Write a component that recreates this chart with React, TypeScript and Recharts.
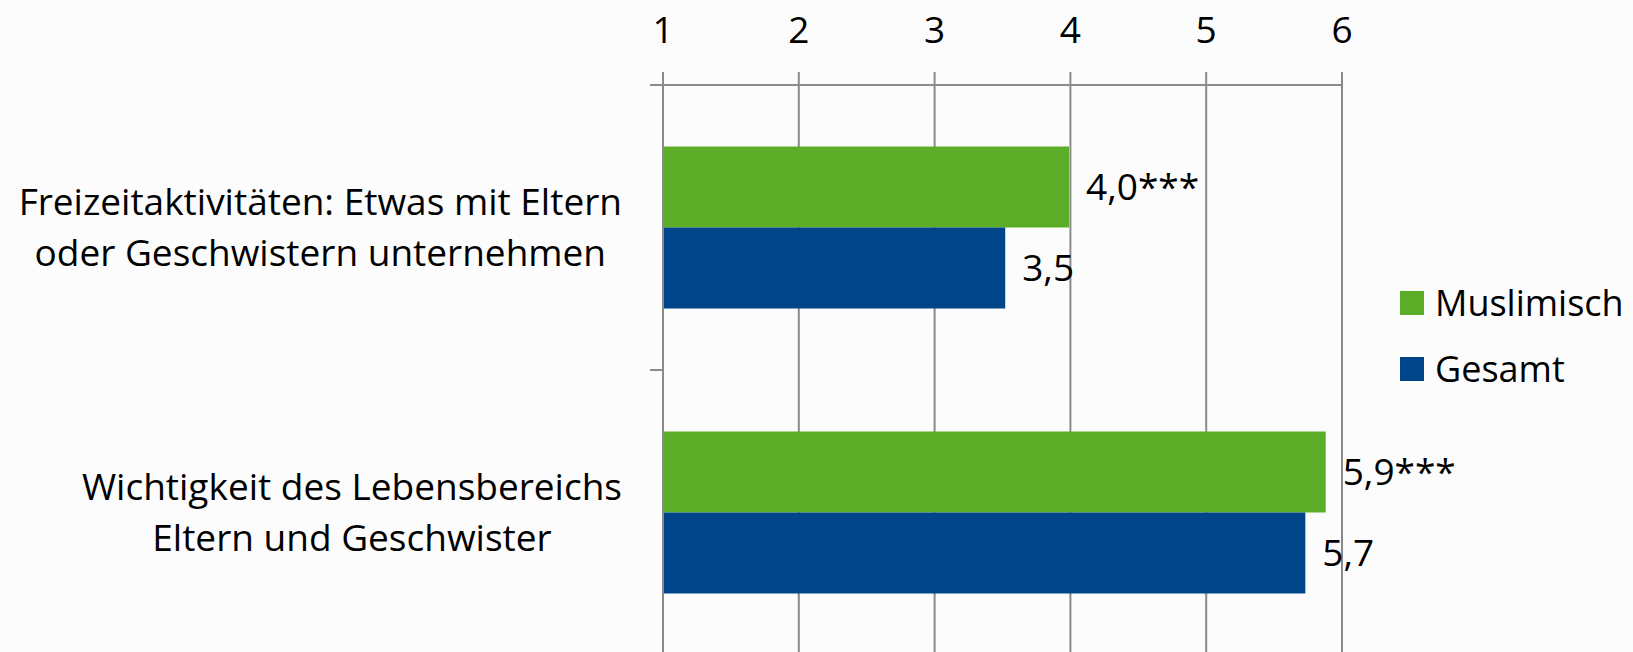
import React from 'react';
import { BarChart, Bar, XAxis, YAxis, CartesianGrid, Legend, LabelList } from 'recharts';

// values (scale 1..6)
const categories = [
  'Freizeitaktivitäten: Etwas mit Eltern\noder Geschwistern unternehmen',
  'Wichtigkeit des Lebensbereichs\nEltern und Geschwister',
];
const muslimisch = [3.99, 5.88];
const gesamt = [3.52, 5.73];
const muslimischSig = ['***', '***'];
const gesamtSig = ['', ''];
const xTicks = [1, 2, 3, 4, 5, 6];
const seriesNames = ['Muslimisch', 'Gesamt'];

const GREEN = '#5bad27';
const BLUE = '#004589';
const AXIS = '#8a8a8a';
const FONT = "'Open Sans', sans-serif";

const W = 1633;
const H = 680;
const PLOT_LEFT = 663;
const PLOT_RIGHT = 1342;
const PLOT_TOP = 85;
const PLOT_BOTTOM = 655;
const BAND = (PLOT_BOTTOM - PLOT_TOP) / categories.length;

const data = categories.map((name, i) => ({
  name,
  muslimisch: muslimisch[i],
  gesamt: gesamt[i],
}));

let ctx: CanvasRenderingContext2D | null = null;
const measure = (s: string, font: string) => {
  if (!ctx) ctx = document.createElement('canvas').getContext('2d');
  if (!ctx) return s.length * 16;
  ctx.font = font;
  return ctx.measureText(s).width;
};

const XTick = (props: any) => {
  const { x, y, payload } = props;
  return (
    <text x={x} y={y} textAnchor="middle" fontSize={37} fontFamily={FONT} fill="#000">
      {payload.value}
    </text>
  );
};

const CatTick = (props: any) => {
  const { y, payload } = props;
  const lines = String(payload.value).split('\n');
  const size = 37;
  const lh = 51;
  const widths = lines.map((l) => measure(l, `${size}px 'Open Sans'`));
  const cx = PLOT_LEFT - 41 - Math.max(...widths) / 2;
  const first = y - ((lines.length - 1) * lh) / 2 + size * 0.357;
  return (
    <g>
      <line x1={PLOT_LEFT - 13} x2={PLOT_LEFT} y1={y - BAND / 2} y2={y - BAND / 2} stroke={AXIS} strokeWidth={2} />
      <line x1={PLOT_LEFT - 13} x2={PLOT_LEFT} y1={y + BAND / 2} y2={y + BAND / 2} stroke={AXIS} strokeWidth={2} />
      <text textAnchor="middle" fontSize={size} fontFamily={FONT} fill="#000">
        {lines.map((l, i) => (
          <tspan key={i} x={cx} y={first + i * lh}>
            {l}
          </tspan>
        ))}
      </text>
    </g>
  );
};

const valueLabel = (sig: string[]) => (props: any) => {
  const { x, y, width, height, value, index } = props;
  const text = Number(value).toFixed(1).replace('.', ',') + (sig[index] || '');
  return (
    <text
      x={x + width + 17}
      y={y + height / 2}
      dy="0.36em"
      fontSize={37}
      fontFamily={FONT}
      fill="#000"
    >
      {text}
    </text>
  );
};

const LegendBox = () => (
  <div style={{ fontFamily: FONT, fontSize: 36, color: '#000' }}>
    {seriesNames.map((n, i) => (
      <div key={n} style={{ height: 66, display: 'flex', alignItems: 'center' }}>
        <span
          style={{
            display: 'inline-block',
            width: 24,
            height: 24,
            marginRight: 11,
            background: i === 0 ? GREEN : BLUE,
          }}
        />
        <span style={{ lineHeight: 1 }}>{n}</span>
      </div>
    ))}
  </div>
);

export default function App() {
  return (
    <div
      style={{
        position: 'fixed',
        top: 0,
        left: 0,
        width: W,
        height: 652,
        overflow: 'hidden',
        background: '#fcfcfc',
      }}
    >
      <BarChart
        width={W}
        height={H}
        data={data}
        layout="vertical"
        margin={{ top: 0, right: W - PLOT_RIGHT, bottom: H - PLOT_BOTTOM, left: 0 }}
        barCategoryGap="21.6%"
        barGap={0}
      >
        <CartesianGrid horizontal={false} stroke={AXIS} strokeWidth={2} />
        <XAxis
          type="number"
          orientation="top"
          domain={[1, 6]}
          ticks={xTicks}
          interval={0}
          allowDataOverflow
          height={PLOT_TOP}
          tickSize={13}
          tickMargin={29}
          axisLine={{ stroke: AXIS, strokeWidth: 2 }}
          tickLine={{ stroke: AXIS, strokeWidth: 2 }}
          tick={<XTick />}
        />
        <YAxis
          type="category"
          dataKey="name"
          width={PLOT_LEFT}
          interval={0}
          tickLine={false}
          tickSize={13}
          tickMargin={28}
          axisLine={{ stroke: AXIS, strokeWidth: 2 }}
          tick={<CatTick />}
        />
        <Legend
          layout="vertical"
          align="center"
          verticalAlign="middle"
          wrapperStyle={{ top: 270, left: 1400, width: 233 }}
          content={() => <LegendBox />}
        />
        <Bar dataKey="muslimisch" name="Muslimisch" fill={GREEN} isAnimationActive={false}>
          <LabelList dataKey="muslimisch" content={valueLabel(muslimischSig)} />
        </Bar>
        <Bar dataKey="gesamt" name="Gesamt" fill={BLUE} isAnimationActive={false}>
          <LabelList dataKey="gesamt" content={valueLabel(gesamtSig)} />
        </Bar>
      </BarChart>
    </div>
  );
}
